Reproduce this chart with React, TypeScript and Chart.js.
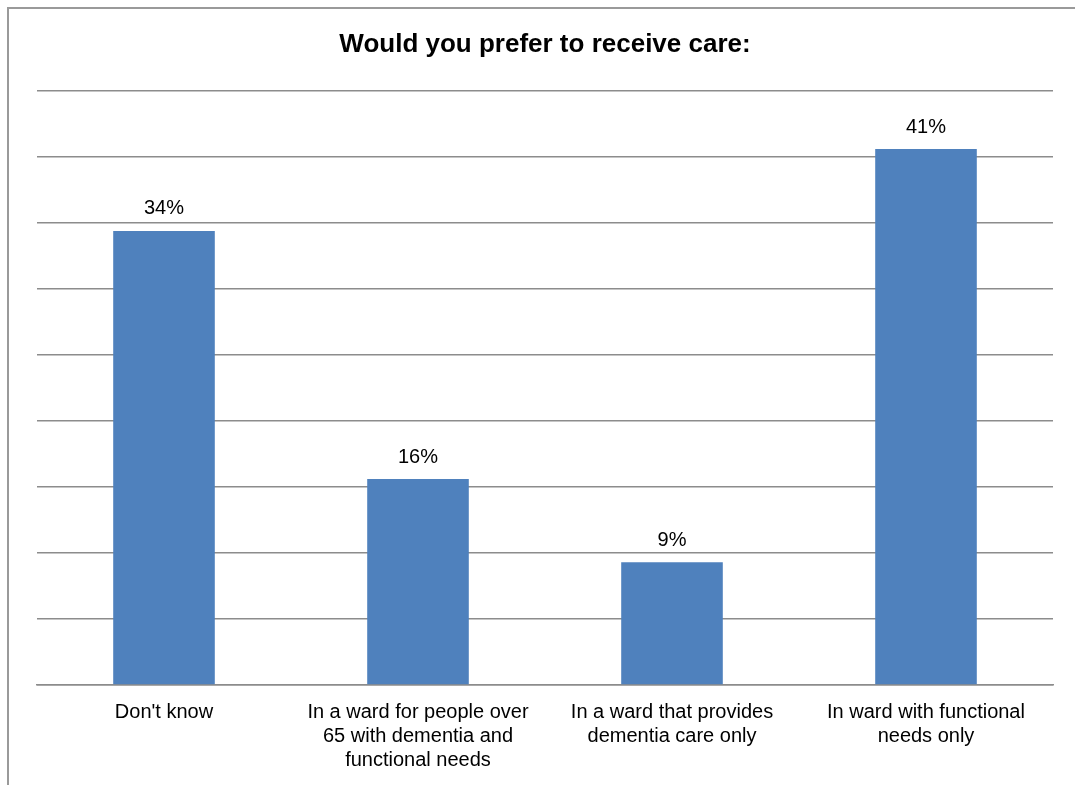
import React, { useEffect, useRef } from "react";
import { Chart, registerables } from "chart.js";

Chart.register(...registerables);

const categories: (string | string[])[] = [
  "Don't know",
  ["In a ward for people over", "65 with dementia and", "functional needs"],
  ["In a ward that provides", "dementia care only"],
  ["In ward with functional", "needs only"],
];
const values = [34.4, 15.6, 9.3, 40.6];
const valueLabels = ["34%", "16%", "9%", "41%"];
const yTicks = [0, 5, 10, 15, 20, 25, 30, 35, 40, 45];

const FONT = "'Liberation Sans', Arial, sans-serif";

export default function App() {
  const ref = useRef<HTMLCanvasElement | null>(null);
  useEffect(() => {
    if (!ref.current) return;
    const labelPlugin = {
      id: "barLabels",
      afterDatasetsDraw(chart: any) {
        const ctx = chart.ctx;
        const meta = chart.getDatasetMeta(0);
        ctx.save();
        ctx.font = `20px ${FONT}`;
        ctx.fillStyle = "#000";
        ctx.textAlign = "center";
        ctx.textBaseline = "middle";
        meta.data.forEach((el: any, i: number) => {
          ctx.fillText(valueLabels[i], el.x, el.y - 22);
        });
        ctx.restore();
      },
    };
    const chart = new Chart(ref.current, {
      type: "bar",
      data: {
        labels: categories,
        datasets: [
          {
            data: values,
            backgroundColor: "#4F81BD",
            borderWidth: 0,
            barPercentage: 0.4,
            categoryPercentage: 1,
          },
        ],
      },
      options: {
        animation: false,
        responsive: false,
        maintainAspectRatio: false,
        layout: { padding: { left: 37, right: 22, top: 0, bottom: 0 } },
        plugins: {
          legend: { display: false },
          tooltip: { enabled: false },
          title: {
            display: true,
            text: "Would you prefer to receive care:",
            color: "#000",
            font: { family: FONT, size: 26, weight: "bold", lineHeight: 1.2 },
            padding: { top: 29, bottom: 30.8 },
          },
        },
        scales: {
          x: {
            grid: { display: false, drawTicks: false },
            border: { display: true, color: "#8c8c8c", width: 1.5 },
            ticks: {
              color: "#000",
              font: { family: FONT, size: 20, lineHeight: 1.2 },
              padding: 15,
              maxRotation: 0,
              autoSkip: false,
            },
            afterFit(scale: any) {
              scale.height = 100;
            },
          },
          y: {
            min: 0,
            max: 45,
            afterBuildTicks(scale: any) {
              scale.ticks = yTicks.map((v) => ({ value: v }));
            },
            grid: { color: "#8c8c8c", lineWidth: 1.5, drawTicks: false },
            border: { display: false },
            ticks: { display: false },
            afterFit(scale: any) {
              scale.width = 0;
            },
          },
        },
      },
      plugins: [labelPlugin],
    });
    return () => chart.destroy();
  }, []);
  return (
    <div
      style={{
        position: "absolute",
        left: 0,
        top: 0,
        width: 1075,
        height: 785,
        overflow: "hidden",
        background: "#fff",
      }}
    >
      <div
        style={{
          position: "absolute",
          left: 7,
          top: 7,
          width: 1100,
          height: 800,
          borderLeft: "2px solid #9a9a9a",
          borderTop: "2px solid #9a9a9a",
        }}
      />
      <canvas
        ref={ref}
        width={1075}
        height={785}
        style={{ position: "absolute", left: 0, top: 0, width: 1075, height: 785 }}
      />
    </div>
  );
}
